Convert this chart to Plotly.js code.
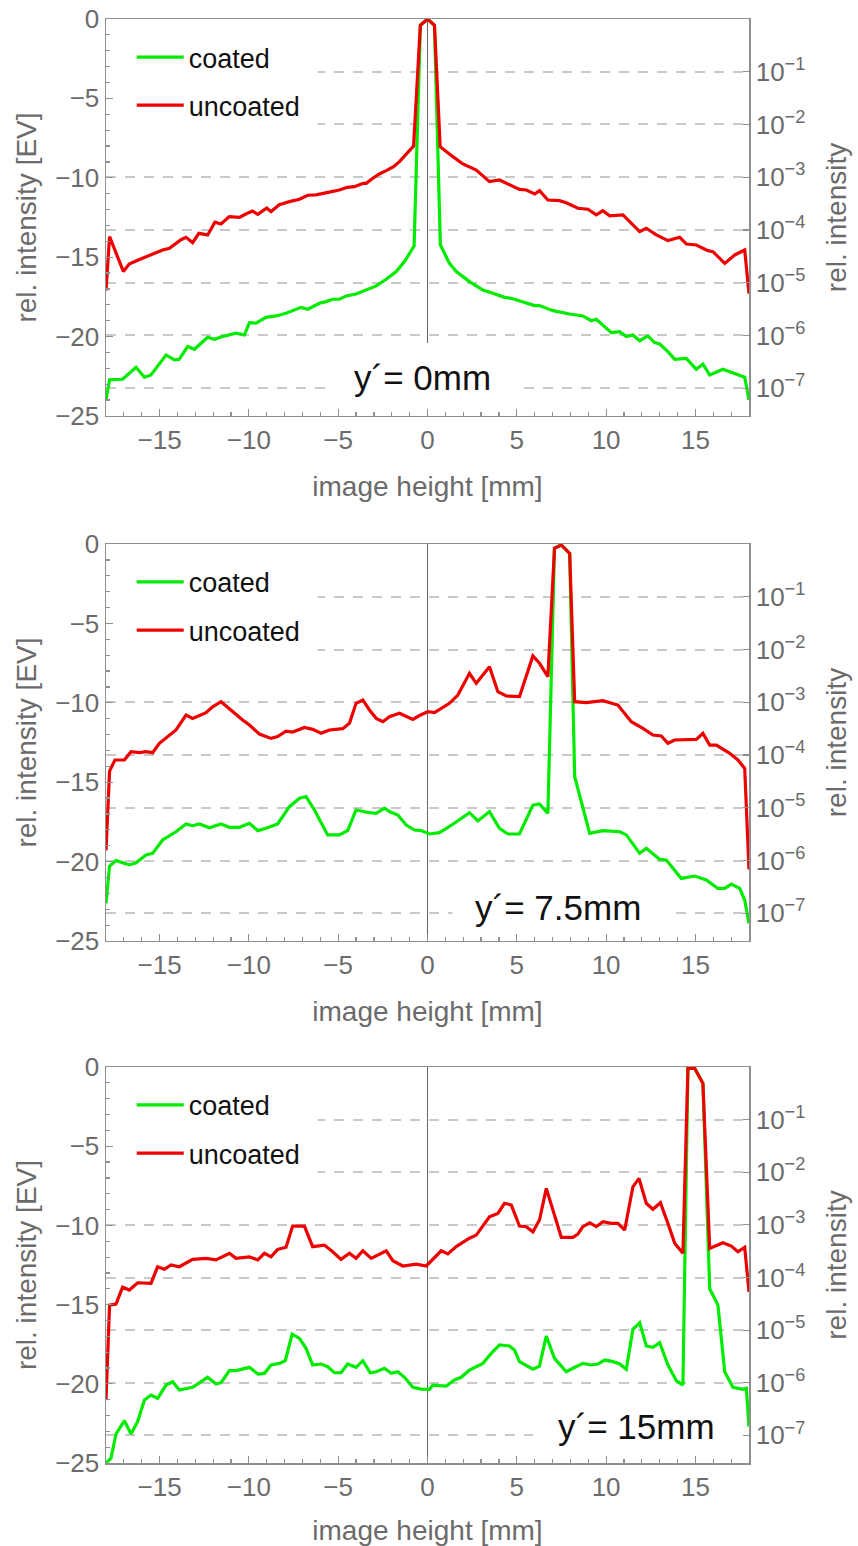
<!DOCTYPE html>
<html><head><meta charset="utf-8">
<script src="https://cdn.plot.ly/plotly-3.0.1.min.js"></script>
<style>html,body{margin:0;padding:0;background:#fff;}</style>
</head><body><div id="chart" style="width:858px;height:1546px;"></div>
<script>
// ---------- data (image height [mm], rel. intensity [EV]) ----------
const seriesNames = ['coated', 'uncoated'];
const panelLabels = ['y\u00B4= 0mm', 'y\u00B4= 7.5mm', 'y\u00B4= 15mm'];

// Panel 1: y' = 0 mm
const p1CoatedX = [-18,-17.8,-17.07,-16.32,-15.85,-15.48,-14.64,-14.17,-13.9,-13.43,-13.05,-12.31,-11.93,-11.47,-10.72,-10.25,-9.97,-9.6,-9.04,-8.48,-7.92,-7.55,-7.08,-6.7,-6.05,-5.68,-5.31,-4.93,-4.55,-4.0,-3.43,-2.87,-2.31,-1.75,-1.29,-0.91,-0.75,-0.4,0,0.39,0.72,1.23,1.61,2.35,3.1,3.66,4.31,4.69,5.25,6.0,6.27,7.02,7.96,8.7,9.17,9.45,10.29,10.76,11.13,11.5,11.88,12.34,12.72,13.0,13.46,13.84,14.49,15.05,15.42,15.8,16.54,17.2,17.76,18];
const p1CoatedY = [-24.0,-22.73,-22.69,-21.93,-22.56,-22.42,-21.16,-21.47,-21.43,-20.63,-20.8,-20.04,-20.17,-20.0,-19.79,-19.9,-19.12,-19.16,-18.79,-18.7,-18.53,-18.37,-18.16,-18.28,-17.9,-17.8,-17.65,-17.65,-17.44,-17.32,-17.07,-16.81,-16.39,-15.91,-15.28,-14.65,-14.3,-0.4,0,-0.4,-14.23,-15.39,-15.91,-16.54,-17.07,-17.27,-17.53,-17.59,-17.8,-18.05,-18.05,-18.37,-18.58,-18.7,-19.0,-18.91,-19.75,-19.69,-20.0,-19.9,-20.26,-19.96,-20.38,-20.47,-20.95,-21.43,-21.37,-22.06,-21.73,-22.42,-22.06,-22.31,-22.56,-24.0];
const p1UncoatedX = [-18,-17.8,-17.03,-16.7,-16.2,-15.48,-14.83,-14.45,-13.8,-13.52,-13.15,-12.8,-12.31,-11.9,-11.56,-11.1,-10.53,-10.2,-9.8,-9.5,-9.0,-8.76,-8.3,-7.73,-7.17,-6.7,-6.24,-5.5,-4.93,-4.5,-4.09,-3.6,-3.43,-3.06,-2.7,-2.31,-1.9,-1.57,-1.2,-0.78,-0.4,0,0.39,0.71,1.42,1.98,2.73,3.47,4.03,5.15,5.53,6.0,6.27,6.74,7.39,7.77,8.42,8.98,9.45,9.82,10.2,10.94,11.32,11.88,12.25,12.81,13.46,14.12,14.49,15.05,15.7,15.98,16.64,17.2,17.76,18];
const p1UncoatedY = [-17.1,-13.7,-15.9,-15.43,-15.18,-14.86,-14.55,-14.44,-13.9,-13.75,-14.08,-13.5,-13.6,-12.8,-12.91,-12.45,-12.49,-12.3,-12.1,-12.3,-11.9,-12.13,-11.7,-11.5,-11.35,-11.1,-11.08,-10.9,-10.77,-10.6,-10.56,-10.35,-10.35,-10.03,-9.76,-9.55,-9.3,-8.98,-8.5,-8.0,-0.4,0,-0.4,-8.04,-8.67,-9.13,-9.51,-10.24,-10.14,-10.73,-10.77,-11.02,-10.81,-11.4,-11.44,-11.57,-11.92,-11.98,-12.34,-12.07,-12.4,-12.34,-12.76,-13.39,-13.18,-13.6,-13.96,-13.75,-14.17,-14.23,-14.59,-14.65,-15.39,-14.86,-14.55,-17.3];

// Panel 2: y' = 7.5 mm
const p2CoatedX = [-18,-17.8,-17.44,-16.69,-16.32,-15.76,-15.39,-14.83,-14.08,-13.52,-13.15,-12.77,-12.21,-11.56,-11.09,-10.53,-9.97,-9.5,-9.04,-8.39,-7.73,-7.17,-6.8,-6.33,-5.59,-4.93,-4.47,-4.0,-3.25,-2.87,-2.41,-2.13,-1.66,-1.19,-0.73,-0.35,0.11,0.67,1.42,2.35,2.82,3.47,4.03,4.5,5.15,5.9,6.27,6.74,7.11,7.49,7.96,8.24,9.08,9.82,10.76,11.13,11.88,12.25,13.0,13.37,14.21,14.96,15.61,16.26,16.64,17.01,17.48,17.76,18];
const p2CoatedY = [-22.63,-20.28,-19.94,-20.21,-20.07,-19.58,-19.48,-18.64,-18.12,-17.63,-17.74,-17.63,-17.87,-17.63,-17.84,-17.84,-17.59,-18.05,-17.9,-17.63,-16.54,-16.01,-15.91,-16.75,-18.32,-18.32,-18.05,-16.75,-16.92,-16.96,-16.64,-16.85,-17.07,-17.7,-18.01,-18.05,-18.26,-18.18,-17.65,-16.92,-17.44,-16.85,-17.9,-18.26,-18.26,-16.44,-16.37,-16.96,-0.27,-0.06,-0.59,-14.65,-18.22,-18.05,-18.12,-18.32,-19.48,-19.16,-19.86,-19.9,-21.06,-20.91,-21.16,-21.69,-21.69,-21.42,-21.69,-22.42,-23.89];
const p2UncoatedX = [-18,-17.8,-17.5,-16.97,-16.6,-16.13,-15.76,-15.39,-15.01,-14.45,-14.08,-13.52,-13.15,-12.4,-12.03,-11.56,-10.91,-10.35,-9.97,-9.41,-8.76,-8.39,-7.92,-7.55,-6.89,-6.43,-5.96,-5.49,-4.75,-4.37,-4.0,-3.62,-3.25,-2.87,-2.5,-2.13,-1.57,-0.82,-0.45,0.02,0.39,1.23,1.7,2.35,2.73,3.47,3.94,4.41,5.15,5.9,6.27,6.74,7.11,7.49,7.96,8.24,8.89,9.82,10.66,11.41,12.06,12.62,13.09,13.46,13.84,15.05,15.42,15.8,16.17,16.92,17.38,17.76,18];
const p2UncoatedY = [-19.3,-14.3,-13.6,-13.6,-13.08,-13.14,-13.08,-13.14,-12.55,-12.03,-11.71,-10.77,-10.98,-10.62,-10.25,-9.93,-10.56,-11.08,-11.4,-11.97,-12.24,-12.13,-11.78,-11.84,-11.55,-11.67,-11.92,-11.71,-11.63,-11.29,-10.03,-9.82,-10.45,-10.98,-11.19,-10.87,-10.66,-11.04,-10.8,-10.56,-10.62,-10.03,-9.51,-8.14,-8.77,-7.73,-9.3,-9.57,-9.61,-7.05,-7.51,-8.35,-0.27,-0.06,-0.59,-9.93,-9.99,-9.86,-10.14,-11.19,-11.61,-12.03,-12.09,-12.55,-12.34,-12.3,-11.92,-12.66,-12.66,-13.18,-13.6,-14.13,-20.5];

// Panel 3: y' = 15 mm
const p3CoatedX = [-18,-17.72,-17.44,-16.97,-16.6,-16.23,-15.85,-15.48,-15.11,-14.64,-14.27,-13.89,-13.15,-12.31,-11.84,-11.56,-11.09,-10.72,-9.97,-9.5,-9.13,-8.76,-8.29,-7.96,-7.58,-7.17,-6.8,-6.43,-5.96,-5.59,-5.21,-4.84,-4.47,-4.0,-3.62,-3.21,-2.87,-2.41,-2.03,-1.66,-1.29,-0.82,-0.35,0.11,0.3,1.05,1.51,1.89,2.35,3.1,3.57,4.03,4.59,4.87,5.15,5.9,6.27,6.65,7.11,7.77,8.14,8.7,9.17,9.54,9.92,10.38,10.76,11.13,11.5,11.88,12.25,12.62,13.0,13.46,13.93,14.3,14.58,14.96,15.42,15.8,16.26,16.64,17.1,17.66,17.85,18];
const p3CoatedY = [-25.0,-24.7,-23.17,-22.33,-23.17,-22.39,-21.02,-20.71,-20.92,-20.08,-19.87,-20.39,-20.22,-19.59,-20.01,-19.93,-19.17,-19.17,-18.96,-19.38,-19.34,-18.81,-18.71,-18.54,-16.86,-17.13,-17.76,-18.81,-18.75,-18.92,-19.3,-19.3,-18.75,-18.96,-18.54,-19.3,-19.24,-19.02,-19.34,-19.24,-19.59,-20.22,-20.33,-20.35,-20.08,-20.14,-19.76,-19.59,-19.13,-18.71,-18.08,-17.55,-17.61,-17.87,-18.6,-19.08,-18.88,-16.98,-18.39,-19.24,-19.02,-18.71,-18.81,-18.75,-18.5,-18.6,-18.75,-19.08,-16.56,-16.14,-17.61,-17.7,-17.4,-18.81,-19.8,-20.08,-0.08,-0.08,-1.03,-14.0,-15.03,-19.24,-20.22,-20.35,-20.29,-22.7];
const p3UncoatedX = [-18,-17.8,-17.44,-17.07,-16.69,-16.23,-15.48,-15.11,-14.73,-14.36,-13.89,-13.15,-12.4,-11.84,-11.09,-10.72,-9.97,-9.5,-9.13,-8.76,-8.39,-7.92,-7.55,-6.89,-6.43,-5.77,-5.31,-4.84,-4.37,-4.0,-3.62,-3.15,-2.31,-1.94,-1.38,-0.63,-0.07,0.77,1.14,1.61,2.35,2.73,3.47,3.94,4.31,4.69,5.15,5.53,5.9,6.27,6.65,7.49,8.14,8.42,8.7,9.08,9.45,9.82,10.29,10.66,11.04,11.5,11.84,12.25,12.62,13.04,13.46,13.84,14.3,14.58,14.96,15.42,15.8,16.54,17.01,17.38,17.76,18];
const p3UncoatedY = [-21.0,-15.03,-14.96,-13.9,-14.08,-13.62,-13.66,-12.61,-12.77,-12.5,-12.61,-12.14,-12.08,-12.18,-11.76,-12.08,-11.98,-12.18,-11.76,-11.98,-11.51,-11.38,-10.04,-10.04,-11.34,-11.24,-11.66,-12.14,-11.76,-12.08,-11.6,-12.08,-11.6,-12.23,-12.56,-12.44,-12.56,-11.6,-11.8,-11.34,-10.81,-10.61,-9.45,-9.24,-8.6,-8.71,-10.04,-10.08,-10.4,-9.66,-7.66,-10.75,-10.75,-10.54,-10.08,-9.83,-10.08,-9.77,-9.87,-9.87,-10.29,-7.56,-7.03,-8.6,-8.98,-8.57,-9.87,-11.13,-11.76,-0.08,-0.08,-1.03,-11.45,-11.09,-11.3,-11.66,-11.38,-14.2];

// axis ticks
const xTickVals = [-15,-10,-5,0,5,10,15];
const evTickVals = [0,-5,-10,-15,-20,-25];
const logExponents = [1,2,3,4,5,6,7];
const logTickText = logExponents.map(k => '10<sup>\u2212' + k + '</sup>');
// position of 10^-k on the EV (log2) scale
const logTickVals = logExponents.map(k => -k * Math.log2(10));

// ---------- styling ----------
const FONT = 'Liberation Sans, Arial, sans-serif';
const GRAY = '#6b6b6b';
const FRAME = '#8f8f8f';
const GREEN = 'rgb(0,235,0)';
const RED = 'rgb(238,0,0)';

const panels = [
  {cx: p1CoatedX, cy: p1CoatedY, ux: p1UncoatedX, uy: p1UncoatedY, label: panelLabels[0], lx: -0.3, ly: -22.6,
   hideAnn: [-5.7, 5.2, -25, -20.4], dom: [0.7251, 1.0]},
  {cx: p2CoatedX, cy: p2CoatedY, ux: p2UncoatedX, uy: p2UncoatedY, label: panelLabels[1], lx: 7.3, ly: -22.9,
   hideAnn: [1.4, 13.7, -25, -21.5], dom: [0.3615, 0.6364]},
  {cx: p3CoatedX, cy: p3CoatedY, ux: p3UncoatedX, uy: p3UncoatedY, label: panelLabels[2], lx: 11.7, ly: -22.7,
   hideAnn: [5.9, 18, -25, -21.5], dom: [0.0, 0.2742]}
];

const traces = [];
const layout = {
  width: 858, height: 1546,
  margin: {l: 106, r: 109, t: 19, b: 83},
  paper_bgcolor: '#fff', plot_bgcolor: '#fff',
  font: {family: FONT, color: GRAY},
  showlegend: true,
  shapes: [], annotations: []
};
const legendTops = [0.9903, 0.6268, 0.2646];

panels.forEach((p, i) => {
  const n = i + 1;
  const xa = n === 1 ? 'x' : 'x' + n;
  const yl = 'y' + (2 * i + 1 === 1 ? '' : (2 * i + 1));
  const yr = 'y' + (2 * i + 2);
  const legName = n === 1 ? 'legend' : 'legend' + n;
  traces.push({x: p.cx, y: p.cy, xaxis: xa, yaxis: yl, type: 'scatter', mode: 'lines',
    name: seriesNames[0], line: {color: GREEN, width: 3.2}, legend: legName, legendgroup: 'c' + n});
  traces.push({x: p.ux, y: p.uy, xaxis: xa, yaxis: yl, type: 'scatter', mode: 'lines',
    name: seriesNames[1], line: {color: RED, width: 3.2}, legend: legName, legendgroup: 'u' + n});
  // empty trace so the right-hand (log) axis subplot gets created
  traces.push({x: [], y: [], xaxis: xa, yaxis: yr, type: 'scatter', mode: 'lines',
    showlegend: false, hoverinfo: 'skip'});

  const xKey = n === 1 ? 'xaxis' : 'xaxis' + n;
  const ylKey = 'yaxis' + (2 * i + 1 === 1 ? '' : (2 * i + 1));
  const yrKey = 'yaxis' + (2 * i + 2);
  layout[xKey] = {
    anchor: yl, domain: [0, 1], range: [-18, 18],
    tickvals: xTickVals, ticktext: xTickVals.map(v => v < 0 ? '\u2212' + Math.abs(v) : String(v)),
    ticks: 'inside', ticklen: 7, tickwidth: 1.2, tickcolor: FRAME,
    minor: {dtick: 1, tick0: 0, ticks: 'inside', ticklen: 4, tickcolor: FRAME, showgrid: false},
    showline: true, linecolor: FRAME, linewidth: 1.5, mirror: true,
    showgrid: false, zeroline: true, zerolinecolor: '#666', zerolinewidth: 1,
    tickfont: {size: 26, color: GRAY, family: FONT},
    title: {text: 'image height [mm]', font: {size: 28, color: GRAY, family: FONT}, standoff: 22},
    fixedrange: true
  };
  layout[ylKey] = {
    anchor: xa, domain: p.dom, range: [-25, 0],
    tickvals: evTickVals, ticktext: evTickVals.map(v => v < 0 ? '\u2212' + Math.abs(v) : String(v)),
    ticks: 'inside', ticklen: 7, tickwidth: 1.2, tickcolor: FRAME,
    minor: {dtick: 1, tick0: 0, ticks: 'inside', ticklen: 4, tickcolor: FRAME, showgrid: false},
    showline: true, linecolor: FRAME, linewidth: 1.5,
    showgrid: false, zeroline: false,
    tickfont: {size: 26, color: GRAY, family: FONT},
    title: {text: 'rel. intensity [EV]', font: {size: 28, color: GRAY, family: FONT}, standoff: 10},
    fixedrange: true
  };
  layout[yrKey] = {
    anchor: xa, overlaying: yl, side: 'right', range: [-25, 0],
    tickvals: logTickVals, ticktext: logTickText,
    ticks: 'inside', ticklen: 6, tickwidth: 1.2, tickcolor: FRAME,
    showline: true, linecolor: FRAME, linewidth: 1.5,
    showgrid: true, gridcolor: '#c9c9c9', gridwidth: 2, griddash: '10px,9px',
    zeroline: false,
    tickfont: {size: 26, color: GRAY, family: FONT},
    title: {text: 'rel. intensity', font: {size: 28, color: GRAY, family: FONT}, standoff: 22},
    fixedrange: true
  };
  // legend
  layout[legName] = {
    x: 0.04, xanchor: 'left', y: legendTops[i], yanchor: 'top',
    bgcolor: 'rgba(0,0,0,0)', borderwidth: 0,
    font: {size: 27, color: '#111', family: FONT},
    tracegroupgap: 10, itemwidth: 47
  };
  // white insets (legend and label backgrounds) hiding the dashed grid
  layout.shapes.push({type: 'rect', xref: xa, yref: yl, x0: -18, x1: -6.15, y0: -8.3, y1: 0,
    fillcolor: '#fff', line: {width: 0}, layer: 'between'});
  layout.shapes.push({type: 'rect', xref: xa, yref: yl, x0: p.hideAnn[0], x1: p.hideAnn[1], y0: p.hideAnn[2], y1: p.hideAnn[3],
    fillcolor: '#fff', line: {width: 0}, layer: 'between'});
  layout.annotations.push({xref: xa, yref: yl, x: p.lx, y: p.ly, text: p.label, showarrow: false,
    font: {size: 35, color: '#111', family: FONT}, xanchor: 'center', yanchor: 'middle'});
});

Plotly.newPlot('chart', traces, layout, {displayModeBar: false, staticPlot: true});
</script></body></html>
